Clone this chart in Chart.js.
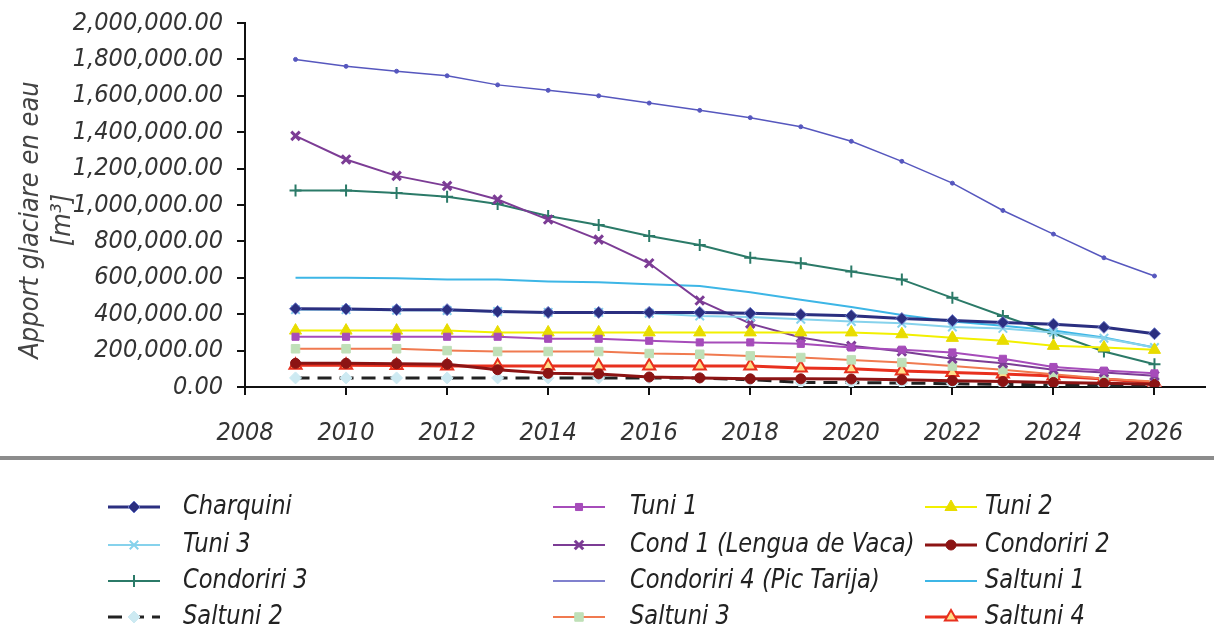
<!DOCTYPE html>
<html>
<head>
<meta charset="utf-8">
<script src="https://cdn.jsdelivr.net/npm/chart.js@4.4.1/dist/chart.umd.min.js"></script>
<style>
  body { margin: 0; background: #fff; }
  canvas { display: block; }
</style>
</head>
<body>
<canvas id="myChart" width="1214" height="635"></canvas>
<script>
// years 2009 - 2026
var years = [2009, 2010, 2011, 2012, 2013, 2014, 2015, 2016, 2017, 2018, 2019, 2020, 2021, 2022, 2023, 2024, 2025, 2026]
var xTickYears = [2008, 2010, 2012, 2014, 2016, 2018, 2020, 2022, 2024, 2026]
var yTitle = ['Apport glaciare en eau', '[m³]']

var charquini   = [430000, 428000, 425000, 425000, 415000, 410000, 410000, 410000, 410000, 405000, 398000, 392000, 376000, 365000, 355000, 345000, 328000, 293000]
var tuni1       = [276000, 276000, 276000, 276000, 276000, 265000, 265000, 254000, 245000, 245000, 237000, 217000, 205000, 190000, 155000, 110000, 90000, 75000]
var tuni2       = [310000, 310000, 310000, 310000, 300000, 300000, 300000, 300000, 300000, 300000, 300000, 300000, 290000, 270000, 254000, 226000, 217000, 204000]
var tuni3       = [425000, 425000, 422000, 420000, 415000, 410000, 410000, 405000, 390000, 385000, 372000, 360000, 350000, 330000, 322000, 300000, 268000, 217000]
var cond1       = [1380000, 1250000, 1160000, 1105000, 1030000, 920000, 810000, 680000, 475000, 348000, 272000, 226000, 195000, 155000, 130000, 95000, 80000, 62000]
var condoriri2  = [130000, 130000, 128000, 125000, 95000, 75000, 72000, 55000, 50000, 45000, 45000, 44000, 40000, 35000, 30000, 25000, 20000, 15000]
var condoriri3  = [1080000, 1080000, 1066000, 1045000, 1005000, 940000, 890000, 830000, 780000, 710000, 680000, 635000, 590000, 490000, 390000, 295000, 195000, 125000]
var condoriri4  = [1800000, 1762000, 1735000, 1710000, 1660000, 1630000, 1600000, 1560000, 1520000, 1480000, 1430000, 1350000, 1240000, 1120000, 970000, 840000, 710000, 610000]
var saltuni1    = [600000, 600000, 598000, 590000, 590000, 580000, 575000, 565000, 555000, 520000, 480000, 440000, 395000, 360000, 337000, 310000, 272000, 217000]
var saltuni2    = [50000, 50000, 50000, 50000, 50000, 50000, 50000, 50000, 50000, 40000, 25000, 24000, 22000, 18000, 15000, 10000, 8000, 5000]
var saltuni3    = [210000, 210000, 210000, 200000, 195000, 195000, 195000, 184000, 180000, 171000, 162000, 149000, 134000, 115000, 95000, 70000, 45000, 30000]
var saltuni4    = [120000, 120000, 118000, 116000, 116000, 116000, 116000, 116000, 116000, 116000, 105000, 100000, 88000, 79000, 72000, 61000, 44000, 24000]

var FONT = "'DejaVu Sans Condensed', 'Liberation Sans', sans-serif"

function pts(vals){
	return vals.map(function(v, i){ return {x: years[i], y: v} })
}

function serie(label, vals, color, opts){
	var d = {
		label: label,
		data: pts(vals),
		borderColor: color,
		backgroundColor: color,
		pointBackgroundColor: color,
		pointBorderColor: color,
		borderWidth: 2,
		pointRadius: 5,
		pointBorderWidth: 1,
		pointStyle: 'circle',
		tension: 0,
		fill: false
	}
	for (var k in opts) d[k] = opts[k]
	return d
}

// legend grid (3 columns x 4 rows)
var legCols = [{line: 108, text: 183}, {line: 553, text: 630}, {line: 925, text: 985}]
var legRows = [507, 545, 581, 617]

var gridLegend = {
	id: 'gridLegend',
	afterDraw: function(chart){
		var ctx = chart.ctx
		ctx.save()
		// y axis title, two lines
		ctx.fillStyle = '#444'
		ctx.font = 'italic 27px ' + FONT
		ctx.textAlign = 'center'
		ctx.textBaseline = 'middle'
		yTitle.forEach(function(t, i){
			ctx.save()
			ctx.translate(31 + i * 32, 220)
			ctx.rotate(-Math.PI / 2)
			ctx.fillText(t, 0, 0)
			ctx.restore()
		})
		// separator
		ctx.fillStyle = '#8c8c8c'
		ctx.fillRect(0, 456, chart.width, 4)
		chart.data.datasets.forEach(function(ds, i){
			var c = legCols[i % 3], y = legRows[Math.floor(i / 3)]
			ctx.strokeStyle = ds.borderColor
			ctx.lineWidth = ds.borderWidth
			ctx.setLineDash(ds.borderDash || [])
			ctx.beginPath()
			ctx.moveTo(c.line, y)
			ctx.lineTo(c.line + 52, y)
			ctx.stroke()
			ctx.setLineDash([])
			if (ds.pointRadius > 0 && !ds.legendPlain) {
				ctx.fillStyle = ds.pointBackgroundColor
				ctx.strokeStyle = ds.pointBorderColor
				ctx.lineWidth = ds.pointBorderWidth
				Chart.helpers.drawPoint(ctx, {pointStyle: ds.pointStyle, radius: ds.pointRadius, borderWidth: ds.pointBorderWidth, rotation: 0}, c.line + 26, y)
			}
			ctx.save()
			ctx.translate(c.text, y)
			ctx.scale(0.93, 1)
			ctx.fillStyle = '#222'
			ctx.font = 'italic 27px ' + FONT
			ctx.textBaseline = 'middle'
			ctx.textAlign = 'left'
			ctx.fillText(ds.label, 0, 0)
			ctx.restore()
		})
		ctx.restore()
	}
}

var ctx = document.getElementById("myChart")
var myChart = new Chart(ctx, {
	type: 'line',
	data: {
		datasets: [
			serie('Charquini', charquini, '#2b2f80', {borderWidth: 3, pointStyle: 'rectRot', pointRadius: 6, pointBorderColor: '#6a78c8'}),
			serie('Tuni 1', tuni1, '#a64cba', {pointStyle: 'rect', pointRadius: 5}),
			serie('Tuni 2', tuni2, '#f2f000', {pointStyle: 'triangle', pointRadius: 7, pointBackgroundColor: '#e8dc00', pointBorderColor: '#e8dc00'}),
			serie('Tuni 3', tuni3, '#86d2ec', {pointStyle: 'crossRot', pointRadius: 6, pointBorderWidth: 2}),
			serie('Cond 1 (Lengua de Vaca)', cond1, '#7c3c95', {pointStyle: 'crossRot', pointRadius: 6, pointBorderWidth: 3}),
			serie('Condoriri 2', condoriri2, '#8c1414', {borderWidth: 3, pointStyle: 'circle', pointRadius: 5}),
			serie('Condoriri 3', condoriri3, '#2b7a68', {pointStyle: 'cross', pointRadius: 6, pointBorderWidth: 2}),
			serie('Condoriri 4 (Pic Tarija)', condoriri4, '#5657be', {borderWidth: 1.5, pointStyle: 'circle', pointRadius: 2, legendPlain: true}),
			serie('Saltuni 1', saltuni1, '#3db6e6', {pointRadius: 0}),
			serie('Saltuni 2', saltuni2, '#222222', {borderWidth: 3, borderDash: [14, 8], pointStyle: 'rectRot', pointRadius: 6, pointBackgroundColor: '#cdeaf2', pointBorderColor: '#cdeaf2'}),
			serie('Saltuni 3', saltuni3, '#f07a50', {pointStyle: 'rect', pointRadius: 6, pointBackgroundColor: '#bfe0b8', pointBorderColor: '#bfe0b8'}),
			serie('Saltuni 4', saltuni4, '#e8301e', {borderWidth: 3, pointStyle: 'triangle', pointRadius: 7, pointBackgroundColor: '#ffe08a', pointBorderColor: '#e8301e', pointBorderWidth: 2})
		]
	},
	options: {
		responsive: false,
		animation: false,
		layout: {padding: {left: 0, right: 7, top: 0, bottom: 164}},
		plugins: {
			legend: {display: false},
			tooltip: {enabled: false}
		},
		scales: {
			x: {
				type: 'linear',
				min: 2008,
				max: 2027,
				afterBuildTicks: function(scale){
					scale.ticks = xTickYears.map(function(v){ return {value: v} })
				},
				ticks: {
					color: '#333',
					padding: 23,
					maxRotation: 0,
					font: {family: FONT, size: 25, style: 'italic'},
					callback: function(v){ return String(v) }
				},
				grid: {drawOnChartArea: false, tickLength: 8, color: '#111', lineWidth: 2},
				border: {display: true, color: '#111', width: 2}
			},
			y: {
				min: 0,
				max: 2000000,
				afterFit: function(scale){
					scale.width = 245
					scale.paddingTop = 23
				},
				ticks: {
					stepSize: 200000,
					autoSkip: false,
					color: '#333',
					padding: 14,
					font: {family: FONT, size: 25, style: 'italic'},
					callback: function(v){ return v.toLocaleString('en-US', {minimumFractionDigits: 2, maximumFractionDigits: 2}) }
				},
				grid: {drawOnChartArea: false, tickLength: 8, color: '#111', lineWidth: 2},
				border: {display: true, color: '#111', width: 2}
			}
		}
	},
	plugins: [gridLegend]
})
</script>
</body>
</html>
